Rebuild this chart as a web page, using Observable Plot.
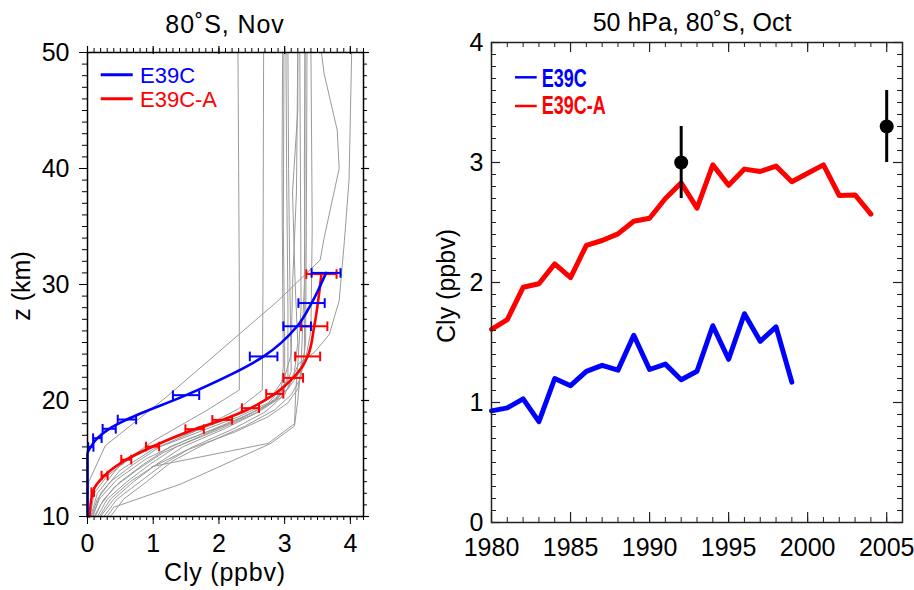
<!DOCTYPE html>
<html><head><meta charset="utf-8">
<script src="https://cdn.jsdelivr.net/npm/d3@7"></script>
<script src="https://cdn.jsdelivr.net/npm/@observablehq/plot@0.6"></script>
<style>
body{margin:0;background:#fff;}
#wrap{position:relative;width:914px;height:590px;overflow:hidden;}
#wrap svg{position:absolute;top:0;overflow:visible;}
</style></head><body><div id="wrap"></div>
<script>
// ---------------- LEFT PANEL DATA (80°S, Nov profiles) ----------------
const e39cZ    = [10, 15.4, 16.0, 16.75, 17.56, 18.36, 20.46, 23.8, 26.4, 28.4, 31.0];
const e39cCly  = [0.0, 0.0, 0.05, 0.15, 0.33, 0.60, 1.50, 2.68, 3.19, 3.41, 3.63];
const e39cErr  = [null, null, 0.04, 0.065, 0.10, 0.14, 0.20, 0.21, 0.21, 0.20, 0.22];

const e39caZ   = [10, 12.1, 13.53, 14.9, 16.03, 17.53, 18.33, 19.34, 20.57, 21.95, 23.8, 26.4, 30.9];
const e39caCly = [0.03, 0.08, 0.26, 0.59, 0.99, 1.63, 2.05, 2.48, 2.85, 3.13, 3.35, 3.45, 3.56];
const e39caErr = [null, 0.02, 0.046, 0.076, 0.10, 0.14, 0.15, 0.13, 0.13, 0.15, 0.19, 0.20, 0.23];

// grey model/other profiles: [Cly, z] pairs
const grayA = [[0,10],[0.02,13],[0.27,16.1],[1.2,20.3],[2.9,28.6],[3.54,32.1],[3.6,34],[3.83,40],[3.8,43.3],[3.6,48.2],[3.56,50]];
const grayB = [[0.05,10],[0.15,12],[0.5,14.5],[1.0,16.5],[1.8,19.1],[2.31,20.9],[2.31,30],[2.3,40],[2.29,50]];
const grayC = [[0.08,10],[0.2,12],[0.5,14],[1.0,15.8],[1.7,17.5],[2.3,19.3],[2.66,20.9],[2.67,30],[2.68,50]];
const grayD = [[0.3,10],[0.4,10.8],[1.42,12.8],[2.79,16.3],[3.15,17.8],[3.2,20],[3.25,23],[3.3,30],[3.31,40],[3.31,50]];
const grayE = [[0.98,14.3],[2.75,16.3],[3.15,18],[3.17,20.9],[3.2,23.1],[3.46,24.2],[3.68,25.7],[3.83,28.6],[3.91,33.8],[3.98,39],[4.02,50]];
const grayF = [[0.06,10],[0.15,11.5],[0.35,13],[0.7,14.5],[1.1,16],[1.7,17.3],[2.3,18.6],[2.75,19.8],[2.95,21],[2.98,23],[2.97,30],[2.96,40],[2.97,50]];
const grayG = [[0.1,10],[0.25,11.5],[0.5,13],[0.85,14.5],[1.25,16],[1.9,17.5],[2.45,18.8],[2.85,20],[3.0,21.5],[3.0,25],[2.98,35],[2.99,50]];
const grayH = [[0.15,10],[0.3,11.5],[0.6,13],[0.95,14.5],[1.35,16],[2.0,17.5],[2.55,18.9],[2.9,20.2],[3.05,22],[3.05,28],[3.03,40],[3.02,50]];
const grayI = [[0.2,10],[0.4,11.5],[0.7,13],[1.05,14.5],[1.45,16],[2.1,17.6],[2.6,19],[2.95,20.3],[3.1,22.5],[3.08,30],[3.06,40],[3.05,50]];
const grayJ = [[0.25,10],[0.45,11.5],[0.8,13],[1.15,14.5],[1.6,16],[2.2,17.5],[2.7,19],[3.0,20.5],[3.15,22.5],[3.2,25],[3.16,30],[3.12,38],[3.2,45],[3.2,50]];
const grayK = [[0.12,10],[0.2,11],[0.4,12.5],[0.75,14],[1.15,15.5],[1.75,17],[2.35,18.5],[2.8,19.8],[3.05,21],[3.2,23],[3.25,28],[3.24,40],[3.23,50]];
const grayL = [[0.35,10],[0.55,11.5],[0.9,13],[1.3,14.8],[1.8,16.3],[2.4,17.8],[2.85,19.2],[3.1,20.5],[3.25,22],[3.32,25],[3.33,35],[3.34,50]];
const grayM = [[0.08,10],[0.18,11.5],[0.45,13.2],[0.9,15],[1.5,16.6],[2.15,18],[2.7,19.5],[3.05,21],[3.3,23],[3.4,26],[3.42,35],[3.4,50]];
const grayN = [[0.18,10],[0.35,11.5],[0.65,13],[1.0,14.3],[1.5,15.7],[2.25,17.3],[2.75,18.6],[3.05,19.8],[3.2,21],[3.3,24],[3.31,32],[3.3,40],[3.31,50]];
const grayO = [[0.04,10],[0.1,12],[0.3,13.5],[0.65,15],[1.2,16.5],[1.85,17.8],[2.4,19],[2.8,20.3],[3.0,22],[3.1,24],[3.12,30],[3.18,38],[3.2,50]];

const leftXTicks = [0, 1, 2, 3, 4];
const leftYTicks = [10, 20, 30, 40, 50];

// ---------------- RIGHT PANEL DATA (50 hPa, 80°S, Oct) ----------------
const yearsE39C  = [1980,1981,1982,1983,1984,1985,1986,1987,1988,1989,1990,1991,1992,1993,1994,1995,1996,1997,1998,1999];
const clyE39C    = [0.93,0.955,1.03,0.84,1.20,1.14,1.26,1.31,1.27,1.56,1.275,1.32,1.19,1.26,1.64,1.36,1.74,1.51,1.63,1.17];
const yearsE39CA = [1980,1981,1982,1983,1984,1985,1986,1987,1988,1989,1990,1991,1992,1993,1994,1995,1996,1997,1998,1999,2000,2001,2002,2003,2004];
const clyE39CA   = [1.61,1.69,1.96,1.99,2.155,2.04,2.31,2.35,2.405,2.51,2.535,2.70,2.83,2.62,2.98,2.81,2.945,2.925,2.97,2.84,2.91,2.98,2.725,2.73,2.57];
const obsYears = [1992, 2005];
const obsCly   = [3.0, 3.3];
const obsErr   = [0.3, 0.3];

const rightXTicks = [1980, 1985, 1990, 1995, 2000, 2005];
const rightYTicks = [0, 1, 2, 3, 4];

// ---------------- build ----------------
const FONT = "'Liberation Sans', Arial, Helvetica, sans-serif";
const wrap = document.getElementById("wrap");

const vbar = {draw(ctx, size) { const r = Math.sqrt(size / Math.PI); ctx.moveTo(0, -r); ctx.lineTo(0, r); }};

const grays = [grayA,grayB,grayC,grayD,grayE,grayF,grayG,grayH,grayI,grayJ,grayK,grayL,grayM,grayN,grayO];
const grayRows = grays.flatMap((g, i) => g.map(([cly, z]) => ({id: i, cly, z})));
const blueRows = e39cZ.map((z, i) => ({z, cly: e39cCly[i], err: e39cErr[i]}));
const redRows  = e39caZ.map((z, i) => ({z, cly: e39caCly[i], err: e39caErr[i]}));
const bars = rows => rows.filter(d => d.err != null);
const caps = rows => bars(rows).flatMap(d => [{z: d.z, x: d.cly - d.err}, {z: d.z, x: d.cly + d.err}]);

// left geometry
const LW = 380, LH = 590, LML = 87, LMR = 17, LMT = 52, LMB = 74;
const LFW = LW - LML - LMR, LFH = LH - LMT - LMB;
const lxMinor = d3.range(0, 43).map(i => i / 10);
const lyMinor = d3.range(10, 51);

const left = Plot.plot({
  width: LW, height: LH, marginLeft: LML, marginRight: LMR, marginTop: LMT, marginBottom: LMB,
  style: {fontSize: "25px", fontFamily: FONT, color: "black", background: "transparent", overflow: "visible"},
  x: {domain: [0, 4.2], ticks: leftXTicks, tickSize: 8, tickPadding: 10, tickFormat: d => String(d), label: null},
  y: {domain: [10, 50], ticks: leftYTicks, tickSize: 8, tickPadding: 10, tickFormat: d => String(d), label: null},
  marks: [
    Plot.line(grayRows, {x: "cly", y: "z", z: "id", stroke: "#9a9a9a", strokeWidth: 1}),
    Plot.line(redRows, {x: "cly", y: "z", stroke: "#ff0000", strokeWidth: 2.6, curve: "monotone-y"}),
    Plot.ruleY(bars(redRows), {y: "z", x1: d => d.cly - d.err, x2: d => d.cly + d.err, stroke: "#ff0000", strokeWidth: 2}),
    Plot.dot(caps(redRows), {x: "x", y: "z", symbol: vbar, r: 4.8, fill: "none", stroke: "#ff0000", strokeWidth: 2}),
    Plot.line(blueRows, {x: "cly", y: "z", stroke: "#0000ff", strokeWidth: 2.6, curve: "monotone-y"}),
    Plot.ruleY(bars(blueRows), {y: "z", x1: d => d.cly - d.err, x2: d => d.cly + d.err, stroke: "#0000ff", strokeWidth: 2}),
    Plot.dot(caps(blueRows), {x: "x", y: "z", symbol: vbar, r: 4.8, fill: "none", stroke: "#0000ff", strokeWidth: 2}),
    // minor ticks (outward) on all sides
    Plot.ruleX(lxMinor, {insetTop: LFH - 4, dy: 4, stroke: "black", strokeWidth: 1}),
    Plot.ruleX(lxMinor, {insetBottom: LFH - 4, dy: -4, stroke: "black", strokeWidth: 1}),
    Plot.ruleX(leftXTicks, {insetBottom: LFH - 8, dy: -6, stroke: "black", strokeWidth: 1.2}),
    Plot.ruleY(lyMinor, {insetRight: LFW - 5, dx: -5, stroke: "black", strokeWidth: 1}),
    Plot.ruleY(lyMinor, {insetLeft: LFW - 4, dx: 4, stroke: "black", strokeWidth: 1}),
    Plot.ruleY(leftYTicks, {insetLeft: LFW - 8, dx: 6, stroke: "black", strokeWidth: 1.2}),
    Plot.frame({stroke: "black", strokeWidth: 1.5})
  ]
});
left.style.left = "0px";
wrap.appendChild(left);

{
  const s = d3.select(left);
  const g = s.append("g").attr("font-family", FONT).attr("fill", "black");
  g.append("text").attr("x", 225).attr("y", 33).attr("text-anchor", "middle").attr("font-size", 25).style("letter-spacing", "0.9px").text("80˚S, Nov");
  g.append("text").attr("x", 225).attr("y", 581).attr("text-anchor", "middle").attr("font-size", 25).style("letter-spacing", "0.8px").text("Cly (ppbv)");
  g.append("text").attr("transform", "translate(30,286) rotate(-90)").attr("text-anchor", "middle").attr("font-size", 25).text("z (km)");
  // legend
  const leg = [["E39C", "#0000ff", 74.7, 83.3], ["E39C-A", "#ff0000", 98.7, 106.7]];
  for (const [t, c, ly, by] of leg) {
    g.append("line").attr("x1", 100.7).attr("x2", 132.7).attr("y1", ly).attr("y2", ly).attr("stroke", c).attr("stroke-width", 3);
    g.append("text").attr("x", 140).attr("y", by).attr("text-anchor", "start").attr("font-size", 22).attr("fill", c).text(t);
  }
}

// right geometry
const RX = 420, RW = 494, RH = 590, RML = 71, RMR = 12, RMT = 42, RMB = 68;
const RFW = RW - RML - RMR, RFH = RH - RMT - RMB;
const rxMinor = d3.range(1981, 2006);
const ryMinor = d3.range(1, 40).map(i => i / 10);

const seriesRows = [
  ...yearsE39C.map((y, i) => ({year: y, cly: clyE39C[i], s: "E39C"})),
  ...yearsE39CA.map((y, i) => ({year: y, cly: clyE39CA[i], s: "E39C-A"}))
];
const obsRows = obsYears.map((y, i) => ({year: y, cly: obsCly[i], err: obsErr[i]}));

const right = Plot.plot({
  width: RW, height: RH, marginLeft: RML, marginRight: RMR, marginTop: RMT, marginBottom: RMB,
  style: {fontSize: "25px", fontFamily: FONT, color: "black", background: "transparent", overflow: "visible"},
  x: {domain: [1980, 2006], ticks: rightXTicks, tickSize: 0, tickPadding: 16, tickFormat: d => String(d), label: null},
  y: {domain: [0, 4], ticks: rightYTicks, tickSize: 0, tickPadding: 8, tickFormat: d => String(d), label: null},
  color: {domain: ["E39C", "E39C-A"], range: ["#0000ff", "#ff0000"]},
  marks: [
    Plot.line(seriesRows, {x: "year", y: "cly", z: "s", stroke: "s", strokeWidth: 5}),
    Plot.ruleX(obsRows, {x: "year", y1: d => d.cly - d.err, y2: d => d.cly + d.err, stroke: "black", strokeWidth: 3}),
    Plot.dot(obsRows, {x: "year", y: "cly", r: 7, fill: "black"}),
    // inward ticks
    Plot.ruleX(rxMinor, {insetTop: RFH - 5, stroke: "#222", strokeWidth: 1}),
    Plot.ruleX(rxMinor, {insetBottom: RFH - 5, stroke: "#222", strokeWidth: 1}),
    Plot.ruleX(rightXTicks, {insetTop: RFH - 10, stroke: "#222", strokeWidth: 1.2}),
    Plot.ruleX(rightXTicks, {insetBottom: RFH - 10, stroke: "#222", strokeWidth: 1.2}),
    Plot.ruleY(ryMinor, {insetRight: RFW - 5, stroke: "#222", strokeWidth: 1}),
    Plot.ruleY(ryMinor, {insetLeft: RFW - 5, stroke: "#222", strokeWidth: 1}),
    Plot.ruleY(rightYTicks, {insetRight: RFW - 9, stroke: "#222", strokeWidth: 1.2}),
    Plot.ruleY(rightYTicks, {insetLeft: RFW - 9, stroke: "#222", strokeWidth: 1.2}),
    Plot.frame({stroke: "#222", strokeWidth: 1.5})
  ]
});
right.style.left = RX + "px";
wrap.appendChild(right);

{
  const s = d3.select(right);
  const g = s.append("g").attr("font-family", FONT).attr("fill", "black");
  g.append("text").attr("x", 272).attr("y", 31).attr("text-anchor", "middle").attr("font-size", 25).text("50 hPa, 80˚S, Oct");
  g.append("text").attr("transform", "translate(35,286) rotate(-90)").attr("text-anchor", "middle").attr("font-size", 25).text("Cly (ppbv)");
  const leg = [["E39C", "#0000ff", 77.3, 86.7], ["E39C-A", "#ff0000", 106, 114]];
  for (const [t, c, ly, by] of leg) {
    g.append("line").attr("x1", 95).attr("x2", 116.7).attr("y1", ly).attr("y2", ly).attr("stroke", c).attr("stroke-width", 2.5);
    g.append("text").attr("transform", `translate(121.7,${by}) scale(0.72,1)`).attr("text-anchor", "start").attr("font-size", 25).attr("font-weight", "bold").attr("fill", c).text(t);
  }
}
</script></body></html>
